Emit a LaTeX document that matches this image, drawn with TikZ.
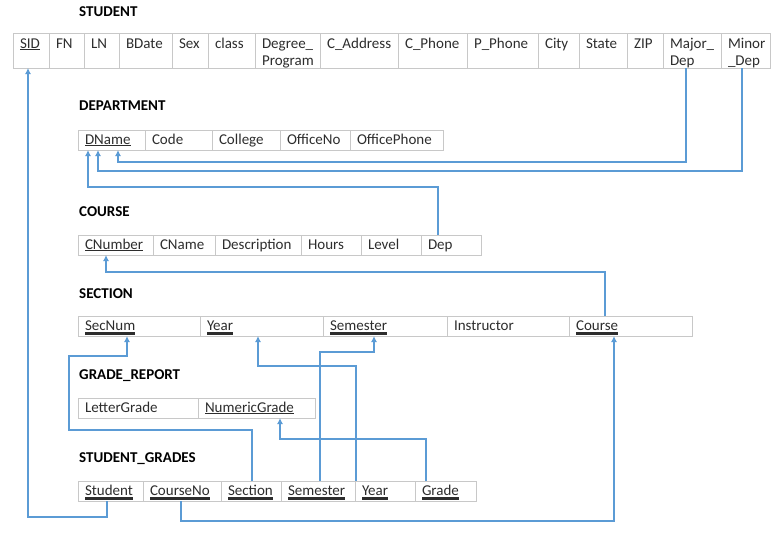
\documentclass[tikz,border=0pt]{standalone}
\usepackage{fontspec}
\setmainfont{Carlito}
\usetikzlibrary{arrows.meta}
\definecolor{fkBlue}{RGB}{91,155,213}
\definecolor{cellGray}{RGB}{200,200,200}
\definecolor{textGray}{RGB}{45,45,45}
\newcommand{\pkey}[1]{{\setbox0=\hbox{#1}\rlap{\rule[-4.8pt]{\wd0}{2.8pt}}\box0}}
\tikzset{
	attribute/.style={
		draw=cellGray,
		line width=1pt,
		anchor=north west,
		font=\fontsize{15}{17}\selectfont,
		text=textGray,
		inner xsep=7pt,
		inner ysep=0pt,
		outer sep=0pt,
		align=left,
		minimum width=#1,
		/utils/exec={\pgfmathsetlengthmacro\attrWidth{#1-14pt}},
		text width=\attrWidth,
		text height=14pt,
		text depth=6pt
	},
	studentAttribute/.style={
		attribute=#1,
		text height=15pt,
		text depth=20pt
	},
	relTitle/.style={
		anchor=west,
		inner sep=0pt,
		font=\bfseries\fontsize{15}{17}\selectfont
	},
}

\begin{document}
\hyphenpenalty=10000
\exhyphenpenalty=10000
\begin{tikzpicture}[x=1pt,y=-1pt]
\tikzset{fkEdge/.style = {draw=fkBlue, line width=1.8pt, -{Latex[length=6pt,width=6pt]}}}
\useasboundingbox (0,0) rectangle (778,533);

\node[relTitle] (studentTitle) at (79,12) {STUDENT};
	\node[studentAttribute=36pt] (sid) at (13,33) {\underline{SID}};
	\node[studentAttribute=35pt] (fn) at (49,33) {FN};
	\node[studentAttribute=35pt] (ln) at (84,33) {LN};
	\node[studentAttribute=53pt] (bDate) at (119,33) {BDate};
	\node[studentAttribute=36pt] (sex) at (172,33) {Sex};
	\node[studentAttribute=47pt] (studentClass) at (208,33) {class};
	\node[studentAttribute=65pt] (degreeProgram) at (255,33) {Degree\_\\Program};
	\node[studentAttribute=78pt] (cAddress) at (320,33) {C\_Address};
	\node[studentAttribute=69pt] (cPhone) at (398,33) {C\_Phone};
	\node[studentAttribute=71pt] (pPhone) at (467,33) {P\_Phone};
	\node[studentAttribute=41pt] (city) at (538,33) {City};
	\node[studentAttribute=48pt] (state) at (579,33) {State};
	\node[studentAttribute=36pt] (zip) at (627,33) {ZIP};
	\node[studentAttribute=58pt] (majorDep) at (663,33) {Major\_\\Dep};
	\node[studentAttribute=49pt] (minorDep) at (721,33) {Minor\\\_Dep};

\node[relTitle] (departmentTitle) at (79,106) {DEPARTMENT};
	\node[attribute=67pt] (dName) at (78,130) {\underline{DName}};
	\node[attribute=67pt] (code) at (145,130) {Code};
	\node[attribute=68pt] (college) at (212,130) {College};
	\node[attribute=70pt] (officeNo) at (280,130) {OfficeNo};
	\node[attribute=93pt] (officePhone) at (350,130) {OfficePhone};

\node[relTitle] (courseTitle) at (79,212) {COURSE};
	\node[attribute=75pt] (cNumber) at (78,235) {\underline{CNumber}};
	\node[attribute=62pt] (cName) at (153,235) {CName};
	\node[attribute=86pt] (description) at (215,235) {Description};
	\node[attribute=60pt] (hours) at (301,235) {Hours};
	\node[attribute=60pt] (level) at (361,235) {Level};
	\node[attribute=60pt] (courseDep) at (421,235) {Dep};

\node[relTitle] (sectionTitle) at (79,294) {SECTION};
	\node[attribute=122pt] (secNum) at (78,316) {\pkey{SecNum}};
	\node[attribute=123pt] (year) at (200,316) {\pkey{Year}};
	\node[attribute=124pt] (semester) at (323,316) {\pkey{Semester}};
	\node[attribute=122pt] (instructor) at (447,316) {Instructor};
	\node[attribute=123pt] (secCourse) at (569,316) {\pkey{Course}};

\node[relTitle] (gradeReportTitle) at (79,376) {GRADE\_REPORT};
	\node[attribute=120pt] (letterGrade) at (78,398) {LetterGrade};
	\node[attribute=117pt] (numericGrade) at (198,398) {\underline{NumericGrade}};

\node[relTitle] (studentGradesTitle) at (79,459) {STUDENT\_GRADES};
	\node[attribute=65pt] (sgStudent) at (78,481) {\pkey{Student}};
	\node[attribute=78pt] (sgCourseNo) at (143,481) {\pkey{CourseNo}};
	\node[attribute=60pt] (sgSection) at (221,481) {\pkey{Section}};
	\node[attribute=74pt] (sgSemester) at (281,481) {\pkey{Semester}};
	\node[attribute=60pt] (sgYear) at (355,481) {\pkey{Year}};
	\node[attribute=61pt] (sgGrade) at (415,481) {\pkey{Grade}};

% foreign keys
\draw[fkEdge] ([xshift=29pt]sgStudent.south west) -- ++(0,16) -| ([xshift=15pt]sid.south west);
\draw[fkEdge] ([xshift=23pt]majorDep.south west) -- ++(0,94) -| ([xshift=40pt]dName.south west);
\draw[fkEdge] ([xshift=21pt]minorDep.south west) -- ++(0,103) -| ([xshift=20pt]dName.south west);
\draw[fkEdge] ([xshift=17pt]courseDep.north west) -- ++(0,-48) -| ([xshift=10pt]dName.south west);
\draw[fkEdge] ([xshift=36pt]secCourse.north west) -- ++(0,-44) -| ([xshift=28pt]cNumber.south west);
\draw[fkEdge] ([xshift=38pt]sgCourseNo.south west) -- ++(0,20) -| ([xshift=45pt]secCourse.south west);
\draw[fkEdge] ([xshift=31pt]sgSection.north west) -- ++(0,-51) -- ++(-183,0) -- ++(0,-74) -| ([xshift=49pt]secNum.south west);
\draw[fkEdge] ([xshift=39pt]sgSemester.north west) -- ++(0,-129) -| ([xshift=51pt]semester.south west);
\draw[fkEdge] ([xshift=1pt]sgYear.north west) -- ++(0,-115) -| ([xshift=58pt]year.south west);
\draw[fkEdge] ([xshift=11pt]sgGrade.north west) -- ++(0,-42) -| ([xshift=82pt]numericGrade.south west);
\end{tikzpicture}
\end{document}
